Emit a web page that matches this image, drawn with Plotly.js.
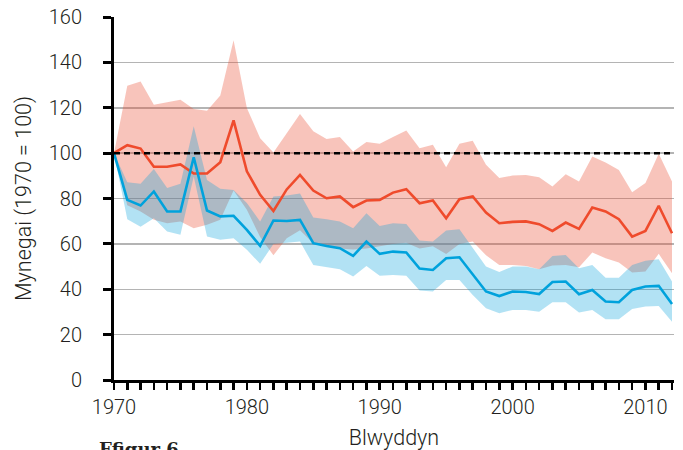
<!DOCTYPE html>
<html>
<head>
<meta charset="utf-8">
<script src="https://cdn.plot.ly/plotly-3.0.1.min.js"></script>
<style>
  html, body { margin: 0; padding: 0; background: #fff; }
  #chart { width: 683px; height: 450px; }
</style>
</head>
<body>
<div id="chart"></div>
<script>
// ---- Data ----
const years = [];
for (let y = 1970; y <= 2012; y++) years.push(y);

const redIndex = [100, 103.5, 102, 94, 94, 95, 91, 91, 96, 114.4, 92, 81.6, 74.5, 84, 90.4,
  83.5, 80.1, 80.9, 76.2, 79.1, 79.4, 82.6, 84.1, 77.9, 79.1, 71.3, 79.7, 80.9, 73.8, 69.1,
  69.7, 69.9, 68.7, 65.7, 69.4, 66.6, 76, 74.3, 70.9, 63.2, 65.7, 76.8, 64.7];
const redUpper = [100, 129.7, 131.6, 121.3, 122.4, 123.5, 119.4, 118.7, 125.4, 149.7, 119.9, 106.6, 100.3, 108.8, 117.2,
  109.6, 106.2, 107.1, 100.7, 104.9, 104.1, 107.1, 110, 102.2, 103.7, 93.8, 104.1, 105.4, 94.9, 89,
  90.1, 90.4, 89.4, 85.3, 90.7, 87.5, 98.5, 95.9, 92.6, 82.8, 86.8, 99.7, 87.5];
const redLower = [100, 77, 74.3, 70.6, 69.1, 69.9, 66.9, 68.4, 70.6, 83.5, 75, 63, 55, 62.5, 66,
  60.3, 59, 58, 57.5, 58, 59, 60, 60.5, 58, 59, 55.5, 60, 61, 55, 50.7,
  50.7, 50.3, 48.8, 50.5, 50.7, 49.7, 56.2, 53.7, 51.8, 47.4, 47.8, 55.6, 47.1];

const blueIndex = [100, 79.4, 76.9, 83.1, 74.3, 74.3, 98.2, 74.7, 72.1, 72.4, 66.2, 59.1, 70.3, 70.1, 70.6,
  60.3, 59.1, 58.1, 54.7, 61, 55.6, 56.6, 56.2, 49.1, 48.5, 53.7, 54.1, 46.8, 39, 37,
  39, 38.8, 37.9, 43.2, 43.4, 37.8, 39.7, 34.6, 34.3, 39.7, 41.2, 41.5, 33.5];
const blueUpper = [100, 87.2, 86.5, 93, 84.6, 86.5, 111.8, 88.2, 84.3, 83.8, 78, 69.9, 80.9, 81.3, 82.2,
  71.6, 70.9, 69.9, 66.9, 73.5, 67.9, 69.1, 68.8, 61.5, 61, 65.9, 66.5, 58, 50, 47.6,
  50, 50, 48.8, 54.7, 55.1, 49.3, 50.7, 45.1, 45.1, 50.7, 52.6, 53.2, 43.4];
const blueLower = [100, 70.9, 67.6, 71.3, 65.4, 64, 89.7, 63.2, 61.8, 62.5, 57.4, 51.2, 60, 60.5, 61,
  50.7, 49.7, 48.8, 45.6, 50.3, 45.9, 46.3, 45.9, 39.4, 39, 44.1, 44.1, 37.5, 31.6, 29.4,
  30.9, 30.9, 30.1, 34.3, 34.3, 29.7, 30.9, 26.8, 26.8, 31.3, 32.4, 32.6, 25.7];

const baseline = 100;
const yTickVals = [0, 20, 40, 60, 80, 100, 120, 140, 160];
const xTickLabels = years.map(y => (y % 10 === 0 ? String(y) : ''));

const RED = '#ef4b2c';
const BLUE = '#00a2dc';
const RED_BAND = 'rgba(235,75,50,0.33)';
const BLUE_BAND = 'rgba(0,160,220,0.30)';

const traces = [
  { x: years, y: redLower, type: 'scatter', mode: 'lines', line: { width: 0, color: RED_BAND }, hoverinfo: 'skip', showlegend: false },
  { x: years, y: redUpper, type: 'scatter', mode: 'lines', line: { width: 0, color: RED_BAND }, fill: 'tonexty', fillcolor: RED_BAND, hoverinfo: 'skip', showlegend: false },
  { x: years, y: blueLower, type: 'scatter', mode: 'lines', line: { width: 0, color: BLUE_BAND }, hoverinfo: 'skip', showlegend: false },
  { x: years, y: blueUpper, type: 'scatter', mode: 'lines', line: { width: 0, color: BLUE_BAND }, fill: 'tonexty', fillcolor: BLUE_BAND, hoverinfo: 'skip', showlegend: false },
  { x: years, y: redIndex, type: 'scatter', mode: 'lines', line: { width: 2.6, color: RED }, showlegend: false },
  { x: years, y: blueIndex, type: 'scatter', mode: 'lines', line: { width: 2.6, color: BLUE }, showlegend: false },
  // invisible carrier for the label axis (y2)
  { x: years, y: redIndex, yaxis: 'y2', type: 'scatter', mode: 'lines', line: { width: 0, color: 'rgba(0,0,0,0)' }, hoverinfo: 'skip', showlegend: false }
];

const FONT = 'Roboto, "Liberation Sans", sans-serif';
const TXT = '#231f20';

const layout = {
  width: 683,
  height: 450,
  margin: { l: 114, r: 9, t: 17, b: 70, pad: 0 },
  paper_bgcolor: '#ffffff',
  plot_bgcolor: '#ffffff',
  font: { family: FONT, size: 20, color: TXT, weight: 300 },
  showlegend: false,
  xaxis: {
    range: [1970, 2012.15],
    tickmode: 'array',
    tickvals: years,
    ticktext: xTickLabels,
    ticks: 'outside',
    ticklen: 7,
    tickwidth: 2.5,
    tickcolor: '#000',
    showline: true,
    linecolor: '#000',
    linewidth: 3,
    showgrid: false,
    zeroline: false,
    tickfont: { family: FONT, size: 20, color: TXT, weight: 300 },
    title: { text: 'Blwyddyn', font: { family: FONT, size: 21.5, color: TXT, weight: 300 }, standoff: 18 }
  },
  yaxis: {
    range: [0, 160],
    tickmode: 'array',
    tickvals: yTickVals,
    showticklabels: false,
    ticks: 'outside',
    ticklen: 8,
    tickwidth: 3,
    tickcolor: '#000',
    showline: true,
    linecolor: '#000',
    linewidth: 3,
    showgrid: true,
    gridcolor: '#b4b4b4',
    gridwidth: 1.5,
    zeroline: false
  },
  yaxis2: {
    overlaying: 'y',
    side: 'left',
    range: [0, 160],
    tickmode: 'array',
    tickvals: yTickVals,
    ticks: 'outside',
    ticklen: 27,
    tickwidth: 1,
    tickcolor: 'rgba(0,0,0,0)',
    showline: false,
    showgrid: false,
    zeroline: false,
    tickfont: { family: FONT, size: 20, color: TXT, weight: 300 },
    title: { text: 'Mynegai (1970 = 100)', font: { family: FONT, size: 21.5, color: TXT, weight: 300 }, standoff: 11 }
  },
  shapes: [
    { type: 'line', xref: 'paper', yref: 'y', x0: 0, x1: 1, y0: baseline, y1: baseline,
      line: { color: '#000', width: 2.5, dash: '6px,4px' }, layer: 'above' }
  ],
  annotations: [
    { text: '<b>Ffigur 6</b>', xref: 'paper', yref: 'paper', x: -0.03, y: -0.157,
      xanchor: 'left', yanchor: 'top', showarrow: false,
      font: { family: '"DejaVu Serif", "Liberation Serif", serif', size: 18, color: TXT } }
  ]
};

Plotly.newPlot('chart', traces, layout, { staticPlot: true, displayModeBar: false });
</script>
</body>
</html>
